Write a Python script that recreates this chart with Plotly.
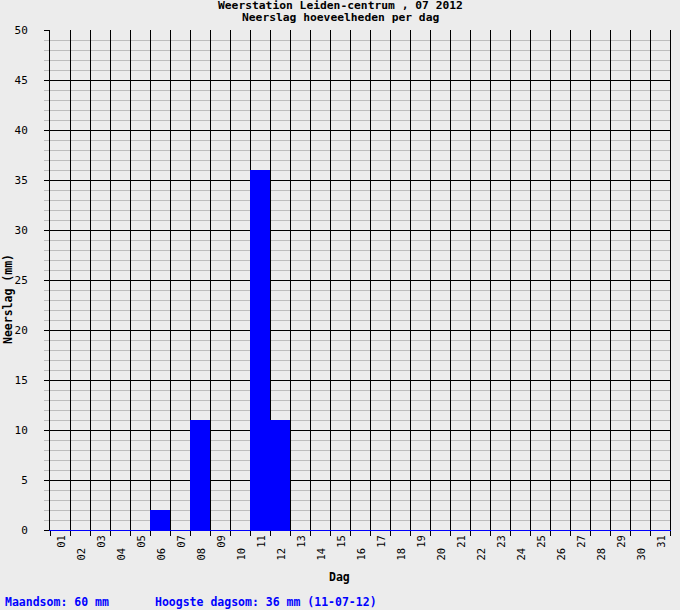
import plotly.graph_objects as go

days = [f"{d:02d}" for d in range(1, 32)]
rain_mm = [0, 0, 0, 0, 0, 2, 0, 11, 0, 0, 36, 11, 0, 0, 0, 0, 0, 0, 0, 0,
           0, 0, 0, 0, 0, 0, 0, 0, 0, 0, 0]
month, year = "07", "2012"
station = "Leiden-centrum"

total = sum(rain_mm)
peak = max(rain_mm)
peak_day = days[rain_mm.index(peak)]

NB = "\u00a0"
tick_text = [d if i % 2 == 0 else d + NB * 2 for i, d in enumerate(days)]

MONO = "DejaVu Sans Mono"
BG = "#ECECEC"
PH = 500  # plot-area height in px, used for paper positions of text
PW = 620

fig = go.Figure(go.Bar(
    x=days, y=rain_mm, marker=dict(color="#0000FF", line=dict(width=0)),
    width=1.0,
))

def ann(text, x_px, y_px, color="black", anchor="center", size=11.5, angle=0):
    return dict(text=text, xref="paper", yref="paper",
                x=(x_px - 50) / PW, y=(530 - y_px) / PH,
                xanchor=anchor, yanchor="middle", showarrow=False,
                textangle=angle,
                font=dict(family=MONO, size=size, color=color))

fig.update_layout(
    width=680, height=610,
    margin=dict(l=50, r=10, t=30, b=80, autoexpand=False),
    paper_bgcolor=BG, plot_bgcolor=BG,
    bargap=0, showlegend=False,
    font=dict(family=MONO, size=11, color="black"),
    xaxis=dict(
        type="category", tickson="boundaries",
        tickmode="array", tickvals=days, ticktext=tick_text,
        tickangle=-90, ticks="outside", ticklen=5, tickcolor="black",
        ticklabelshift=2,
        showgrid=True, gridcolor="black", gridwidth=1,
        tickfont=dict(family=MONO, size=10.5, color="black"),
        range=[-0.5, 30.5], automargin=False,
        showline=True, linecolor="#0000FF", linewidth=1,
    ),
    yaxis=dict(
        range=[0, 50], dtick=5, tick0=0,
        ticks="outside", ticklen=5, tickcolor="black",
        showgrid=True, gridcolor="black", gridwidth=1,
        zeroline=True, zerolinecolor="#0000FF", zerolinewidth=1,
        minor=dict(dtick=1, ticks="outside", ticklen=5, tickcolor="#BDBDBD",
                   showgrid=True, gridcolor="#BDBDBD", gridwidth=1),
        tickfont=dict(family=MONO, size=11, color="black"),
        ticklabelstandoff=14, automargin=False,
        showline=True, mirror=True, linecolor="black", linewidth=1,
    ),
    annotations=[
        ann(f"<b>Weerstation {station} , {month} {year}</b>", 340, 6, size=11.3),
        ann("<b>Neerslag hoeveelheden per dag</b>", 340, 17.5, size=11.3),
        ann("<b>Dag</b>", 339, 577),
        ann("<b>Neerslag (mm)</b>", 8, 299, angle=-90),
        ann(f"<b>Maandsom: {total} mm</b>", 3, 602, "#0000FF", "left"),
        ann(f"<b>Hoogste dagsom: {peak} mm ({peak_day}-{month}-{year[2:]})</b>",
            153, 602, "#0000FF", "left"),
    ],
)

fig.write_html("out.html",
               config={"displayModeBar": False},
               post_script="document.body.style.margin='0';"
                           "document.body.style.overflow='hidden';")
